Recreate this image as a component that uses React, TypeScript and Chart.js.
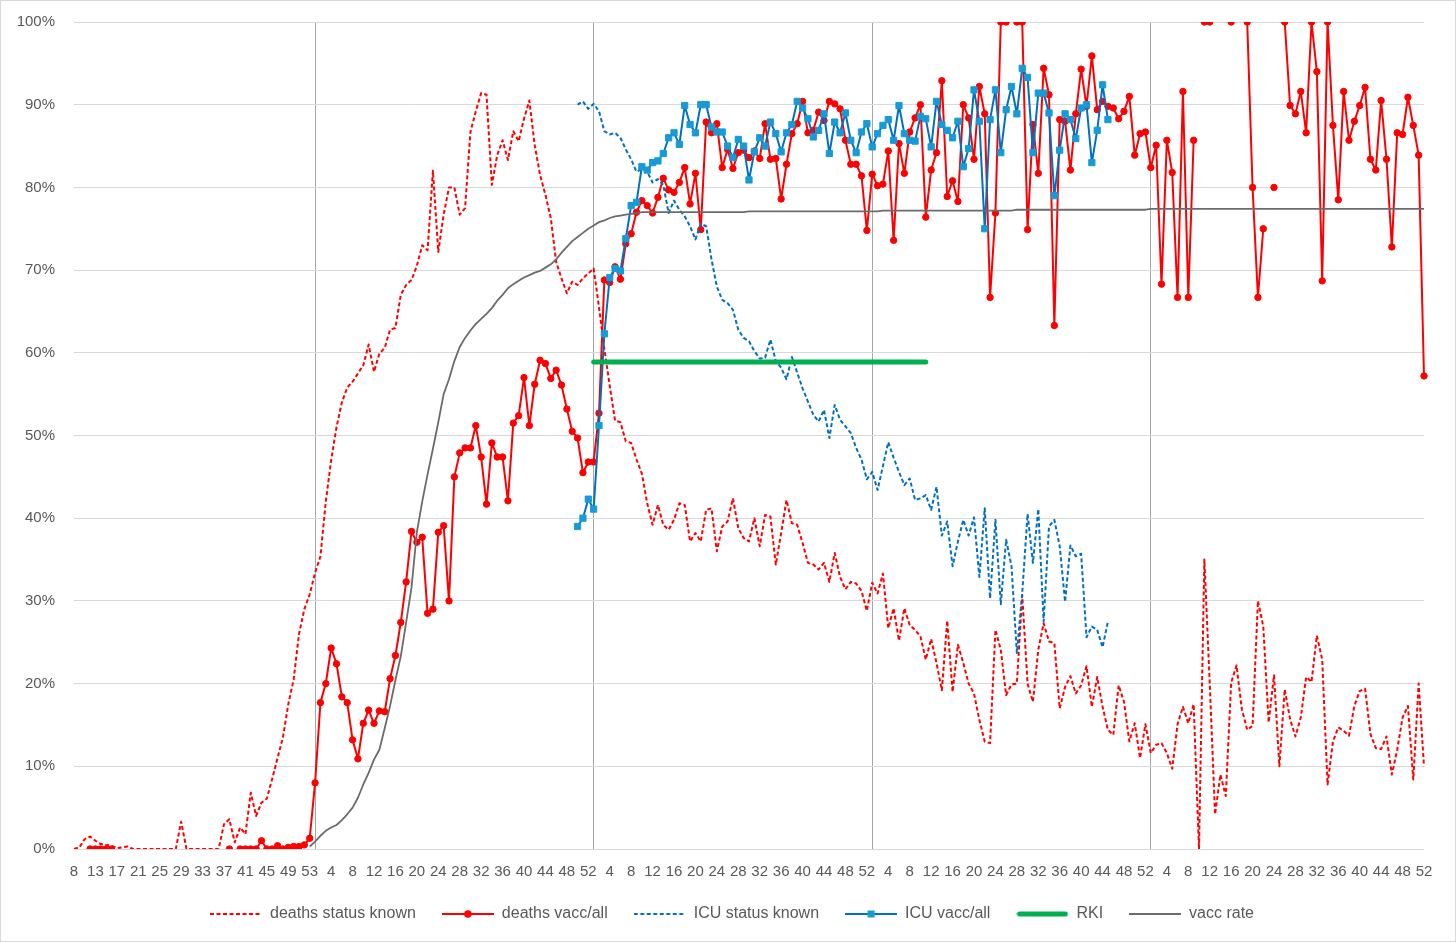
import React, { useEffect, useRef } from "react";
import { Chart, registerables } from "chart.js";

Chart.register(...registerables);

// calendar weeks on the x axis (2020 starts late, one week missing)
const weeks2020 = [
  8, 10, 11, 12, 13, 14, 15, 16, 17, 18, 19, 20, 21, 22, 23, 24, 25, 26, 27, 28, 29, 30, 31,
  32, 33, 34, 35, 36, 37, 38, 39, 40, 41, 42, 43, 44, 45, 46, 47, 48, 49, 50, 51, 52, 53,
];
const weeksOfYear = [
  1, 2, 3, 4, 5, 6, 7, 8, 9, 10, 11, 12, 13, 14, 15, 16, 17, 18, 19, 20, 21, 22, 23, 24, 25, 26,
  27, 28, 29, 30, 31, 32, 33, 34, 35, 36, 37, 38, 39, 40, 41, 42, 43, 44, 45, 46, 47, 48, 49, 50, 51, 52,
];
const laterYears = [2021, 2022, 2023, 2024];

const categories = [
  ...weeks2020.map((week) => ({ year: 2020, week })),
  ...laterYears.flatMap((year) => weeksOfYear.map((week) => ({ year, week }))),
];
const weekLabels = categories.map((c) => String(c.week));
const catIndex = (year: number, week: number) =>
  categories.findIndex((c) => c.year === year && c.week === week);

// share of deaths with known vaccination status (%), from 2020 wk 8
const deathsStatusKnown = [
  0, 0.2, 1.2, 1.5, 1.0, 0.6, 0.5, 0.4, 0.1, 0.2,
  0.3, 0, 0, 0, 0, 0, 0, 0, 0, 0,
  3.3, 0, 0, 0, 0, 0, 0, 0, 3.0, 3.6,
  0.8, 2.6, 1.8, 6.8, 4.0, 5.6, 6.1, 8.5, 11.0, 13.5,
  17.5, 20.5, 26.0, 29.0, 30.8, 33.4, 35.4, 42.0, 47.0, 51.0,
  54.0, 55.8, 56.5, 57.5, 58.5, 61.0, 57.7, 59.9, 60.6, 62.8,
  63.0, 67.0, 68.2, 68.8, 70.5, 73.0, 72.4, 82.0, 72.2, 76.7,
  80.0, 80.0, 76.7, 77.5, 86.7, 89.2, 91.4, 91.2, 80.3, 83.9,
  85.7, 83.3, 86.8, 85.6, 88.3, 90.5, 85.1, 81.5, 79.1, 76.3,
  71.0, 69.0, 67.2, 68.6, 68.2, 69.0, 69.6, 70.2, 65.5, 60.5,
  56.0, 51.8, 51.6, 49.3, 49.1, 47.1, 45.4, 41.8, 39.2, 41.6,
  39.2, 38.6, 39.8, 41.8, 41.6, 37.2, 38.2, 37.2, 41.0, 41.2,
  36.0, 39.0, 39.6, 42.4, 38.8, 37.6, 37.2, 40.0, 36.6, 40.4,
  40.2, 34.4, 38.2, 42.2, 39.4, 39.2, 37.0, 34.6, 34.4, 33.8,
  34.6, 32.3, 35.8, 32.9, 31.4, 32.3, 32.1, 31.2, 28.8, 32.2,
  30.9, 33.3, 26.7, 29.1, 25.2, 29.1, 27.1, 26.5, 25.7, 22.9,
  25.4, 22.5, 19.2, 27.6, 19.0, 24.7, 22.5, 20.0, 18.8, 15.6,
  13.0, 12.8, 26.5, 24.1, 18.6, 19.9, 20.0, 30.7, 20.0, 17.8,
  24.1, 27.3, 25.1, 24.9, 17.0, 19.6, 20.9, 18.8, 19.8, 22.1,
  17.2, 20.8, 17.2, 14.4, 13.8, 19.8, 17.8, 13.0, 15.2, 11.0,
  15.1, 11.6, 12.6, 12.8, 11.6, 9.7, 15.1, 17.2, 15.2, 17.5,
  0, 35.0, 20.1, 4.2, 9.0, 6.4, 20.1, 22.2, 16.9, 14.4,
  14.9, 30.0, 26.9, 15.3, 21.0, 10.0, 19.3, 15.7, 13.6, 15.9,
  20.8, 20.2, 25.8, 22.9, 7.8, 13.0, 14.7, 14.3, 13.7, 17.3,
  19.1, 19.4, 13.9, 12.2, 12.1, 13.6, 9.0, 12.0, 15.9, 17.3,
  8.4, 20.0, 10.0,
];

// vaccinated share of deaths (%), null = no value that week
const deathsVaccAll = [
  null, null, null, 0, 0, 0, 0, 0, null, null,
  null, null, null, null, null, null, null, null, null, null,
  null, null, null, null, null, null, null, null, null, 0,
  null, 0, 0, 0, 0, 1.0, 0, 0, 0.4, 0,
  0.2, 0.3, 0.3, 0.5, 1.3, 8.0, 17.7, 20.0, 24.3, 22.4,
  18.4, 17.7, 13.2, 10.9, 15.2, 16.8, 15.2, 16.7, 16.6, 20.6,
  23.4, 27.4, 32.3, 38.4, 37.1, 37.7, 28.5, 29.0, 38.3, 39.1,
  30.0, 45.0, 47.9, 48.5, 48.5, 51.2, 47.4, 41.7, 49.1, 47.4,
  47.4, 42.1, 51.5, 52.4, 57.0, 51.2, 56.2, 59.1, 58.7, 56.9,
  57.9, 56.1, 53.2, 50.5, 49.7, 45.5, 46.8, 46.8, 52.7, 68.8,
  68.5, 70.4, 68.9, 73.2, 74.4, 77.0, 78.4, 77.8, 76.9, 78.8,
  81.1, 79.7, 79.4, 80.6, 82.4, 78.0, 81.7, 74.9, 87.9, 86.6,
  87.7, 82.4, 84.6, 82.3, 84.2, 84.5, 83.6, 84.4, 83.5, 87.7,
  83.4, 83.5, 78.6, 82.8, 86.5, 87.7, 90.4, 86.6, 86.9, 89.1,
  88.1, 90.4, 90.1, 89.5, 85.7, 82.8, 82.8, 81.4, 74.8, 81.6,
  80.2, 80.4, 84.4, 73.6, 85.3, 81.7, 86.7, 88.4, 90.0, 76.4,
  82.1, 84.2, 92.9, 78.9, 80.8, 78.3, 90.0, 88.4, 83.4, 92.2,
  88.9, 66.7, 76.9, 100, 100, null, 100, 100, 74.9, 87.6,
  81.7, 94.4, 91.2, 63.3, 88.2, 88.0, 82.1, 88.9, 94.3, 89.8,
  95.9, 89.4, 90.4, 89.8, 89.6, 88.3, 89.2, 91.0, 83.9, 86.5,
  86.7, 82.4, 85.1, 68.3, 85.7, 81.8, 66.7, 91.6, 66.7, 85.7,
  null, 100, 100, null, null, null, 100, null, null, 100,
  80.0, 66.7, 75.0, null, 80.0, null, 100, 89.9, 88.9, 91.6,
  86.6, 100, 94.0, 68.7, 100, 87.5, 78.5, 91.6, 85.7, 88.0,
  89.9, 92.1, 83.4, 82.1, 90.5, 83.4, 72.8, 86.6, 86.4, 90.9,
  87.5, 83.9, 57.2,
];

// ICU series, from 2021 wk 50
const icuStart = catIndex(2021, 50);
const icuStatusKnown = [
  90.0, 90.4, 89.5, 90.1, 89.2, 86.8, 86.4, 86.6, 86.0, 84.6,
  83.4, 81.9, 82.2, 81.9, 80.6, 81.0, 80.3, 76.9, 78.4, 77.3,
  76.5, 75.3, 73.7, 75.6, 75.3, 71.3, 68.0, 66.4, 66.0, 65.2,
  62.8, 61.8, 61.4, 60.2, 59.3, 59.4, 61.6, 59.0, 58.2, 56.8,
  59.5, 57.6, 55.7, 54.1, 52.5, 51.7, 53.1, 49.7, 53.7, 51.9,
  51.1, 50.3, 48.5, 47.1, 44.7, 45.6, 43.4, 46.3, 49.2, 47.3,
  45.6, 44.0, 44.8, 42.2, 42.4, 42.8, 41.0, 43.8, 37.9, 39.6,
  34.2, 37.2, 39.8, 37.9, 40.1, 32.9, 41.2, 30.3, 39.8, 29.6,
  37.4, 34.2, 23.7, 30.9, 40.5, 34.6, 41.1, 27.5, 39.0, 39.8,
  36.6, 29.9, 36.7, 35.4, 35.7, 25.6, 26.9, 26.5, 24.4, 27.5,
];
const icuVaccAll = [
  39.0, 40.0, 42.3, 41.1, 51.2, 62.3, 69.1, 70.2, 69.9, 73.8,
  77.8, 78.2, 82.5, 82.1, 83.0, 83.2, 84.1, 86.0, 86.6, 85.2,
  89.9, 87.6, 86.6, 90.0, 90.0, 87.3, 86.7, 86.7, 85.0, 83.6,
  85.8, 85.0, 80.9, 84.3, 86.0, 85.0, 87.9, 86.5, 84.3, 86.6,
  87.6, 90.4, 89.6, 88.3, 86.1, 86.9, 88.9, 84.1, 87.9, 86.6,
  89.0, 85.7, 84.2, 86.7, 87.7, 84.9, 86.5, 87.5, 88.2, 85.7,
  89.9, 86.5, 85.7, 85.6, 88.6, 88.3, 84.9, 90.4, 87.6, 86.9,
  86.0, 88.0, 82.5, 84.7, 91.8, 88.0, 75.0, 88.2, 91.8, 84.2,
  89.4, 92.2, 88.9, 94.4, 93.3, 84.2, 91.4, 91.4, 89.0, 79.0,
  84.5, 88.9, 88.2, 85.9, 89.6, 90.0, 83.0, 86.9, 92.4, 88.2,
];

// RKI reference value, 2022 wk 1 to 2023 wk 11
const rkiStart = catIndex(2022, 1);
const rki = [
  58.9, 58.9, 58.9, 58.9, 58.9, 58.9, 58.9, 58.9, 58.9, 58.9,
  58.9, 58.9, 58.9, 58.9, 58.9, 58.9, 58.9, 58.9, 58.9, 58.9,
  58.9, 58.9, 58.9, 58.9, 58.9, 58.9, 58.9, 58.9, 58.9, 58.9,
  58.9, 58.9, 58.9, 58.9, 58.9, 58.9, 58.9, 58.9, 58.9, 58.9,
  58.9, 58.9, 58.9, 58.9, 58.9, 58.9, 58.9, 58.9, 58.9, 58.9,
  58.9, 58.9, 58.9, 58.9, 58.9, 58.9, 58.9, 58.9, 58.9, 58.9,
  58.9, 58.9, 58.9,
];

// vaccination rate, from 2020 wk 53
const vaccStart = catIndex(2020, 53);
const vaccRate = [
  0.3, 0.9, 1.6, 2.2, 2.6, 2.9, 3.5, 4.2, 5.0, 6.2,
  7.8, 9.2, 10.8, 12.0, 14.6, 17.3, 20.4, 23.3, 27.4, 31.6,
  38.3, 42.0, 45.3, 48.4, 51.6, 55.0, 56.8, 59.0, 60.7, 61.8,
  62.7, 63.5, 64.1, 64.7, 65.4, 66.3, 67.0, 67.8, 68.3, 68.7,
  69.1, 69.4, 69.7, 69.9, 70.3, 70.7, 71.3, 72.1, 72.8, 73.5,
  74.0, 74.5, 75.0, 75.4, 75.8, 76.0, 76.3, 76.5, 76.6, 76.7,
  76.8, 76.9, 77.0, 77.0, 77.0, 77.0, 77.0, 77.0, 77.0, 77.0,
  77.0, 77.0, 77.0, 77.0, 77.0, 77.0, 77.0, 77.0, 77.0, 77.0,
  77.0, 77.0, 77.1, 77.1, 77.1, 77.1, 77.1, 77.1, 77.1, 77.1,
  77.1, 77.1, 77.1, 77.1, 77.1, 77.1, 77.1, 77.1, 77.1, 77.1,
  77.1, 77.1, 77.1, 77.1, 77.1, 77.1, 77.1, 77.2, 77.2, 77.2,
  77.2, 77.2, 77.2, 77.2, 77.2, 77.2, 77.2, 77.2, 77.2, 77.2,
  77.2, 77.2, 77.2, 77.2, 77.2, 77.2, 77.2, 77.2, 77.2, 77.2,
  77.2, 77.2, 77.3, 77.3, 77.3, 77.3, 77.3, 77.3, 77.3, 77.3,
  77.3, 77.3, 77.3, 77.3, 77.3, 77.3, 77.3, 77.3, 77.3, 77.3,
  77.3, 77.3, 77.3, 77.3, 77.3, 77.3, 77.3, 77.4, 77.4, 77.4,
  77.4, 77.4, 77.4, 77.4, 77.4, 77.4, 77.4, 77.4, 77.4, 77.4,
  77.4, 77.4, 77.4, 77.4, 77.4, 77.4, 77.4, 77.4, 77.4, 77.4,
  77.4, 77.4, 77.4, 77.4, 77.4, 77.4, 77.4, 77.4, 77.4, 77.4,
  77.4, 77.4, 77.4, 77.4, 77.4, 77.4, 77.4, 77.4, 77.4, 77.4,
  77.4, 77.4, 77.4, 77.4, 77.4, 77.4, 77.4, 77.4, 77.4,
];

const yTicks = [0, 10, 20, 30, 40, 50, 60, 70, 80, 90, 100];

// year boundaries get a vertical grid line
const yearStarts = laterYears.map((y) => catIndex(y, 1));

const FONT = "'Liberation Sans', Arial, sans-serif";
const TEXT = "#595959";

const RED = "#ff0000";
const BLUE = "#0070c0";
const BLUE_MARK = "#179bd7";
const GREEN = "#00b050";
const GREY = "#6b6b6b";

// place a partial series on the full week axis
const onAxis = (start: number, values: (number | null)[]) =>
  categories.map((_, i) => (i >= start && i - start < values.length ? values[i - start] : null));

function legendIcon(draw: (ctx: CanvasRenderingContext2D) => void) {
  const c = document.createElement("canvas");
  c.width = 52;
  c.height = 14;
  const ctx = c.getContext("2d");
  if (ctx) draw(ctx);
  return c;
}

function iconLine(ctx: CanvasRenderingContext2D, color: string, width: number, dash: number[], round = false) {
  ctx.strokeStyle = color;
  ctx.lineWidth = width;
  ctx.setLineDash(dash);
  ctx.lineCap = round ? "round" : "butt";
  ctx.beginPath();
  ctx.moveTo(round ? 3 : 0, 7);
  ctx.lineTo(round ? 49 : 52, 7);
  ctx.stroke();
}

const framePlugin = {
  id: "frame",
  beforeDraw(chart: Chart) {
    const { ctx, width, height } = chart;
    ctx.save();
    ctx.fillStyle = "#ffffff";
    ctx.fillRect(0, 0, width, height);
    ctx.strokeStyle = "#d9d9d9";
    ctx.lineWidth = 1;
    ctx.strokeRect(0.5, 0.5, width - 1, height - 1);
    ctx.restore();
  },
  // legend sits a bit right of the plot centre, as in the original
  afterLayout(chart: any) {
    if (chart.legend) {
      chart.legend.left += 20;
      chart.legend.right += 20;
    }
  },
};

const App: React.FC = () => {
  const canvasRef = useRef<HTMLCanvasElement | null>(null);

  useEffect(() => {
    const ctx = canvasRef.current?.getContext("2d");
    if (!ctx) return;

    const icons = [
      legendIcon((c) => iconLine(c, RED, 2, [4, 2.5])),
      legendIcon((c) => {
        iconLine(c, RED, 2, []);
        c.fillStyle = RED;
        c.beginPath();
        c.arc(26, 7, 3.8, 0, Math.PI * 2);
        c.fill();
      }),
      legendIcon((c) => iconLine(c, BLUE, 2, [4, 2.5])),
      legendIcon((c) => {
        iconLine(c, BLUE, 2, []);
        c.fillStyle = BLUE_MARK;
        c.fillRect(22.5, 3.5, 7, 7);
      }),
      legendIcon((c) => iconLine(c, GREEN, 5, [], true)),
      legendIcon((c) => iconLine(c, GREY, 2, [])),
    ];

    const chart = new Chart(ctx, {
      type: "line",
      data: {
        labels: weekLabels,
        datasets: [
          {
            label: "deaths status known",
            data: deathsStatusKnown,
            borderColor: RED,
            borderWidth: 2,
            borderDash: [4, 2.5],
            borderJoinStyle: "round",
            pointRadius: 0,
            order: 6,
          },
          {
            label: "deaths vacc/all",
            data: deathsVaccAll,
            borderColor: RED,
            backgroundColor: RED,
            borderWidth: 2,
            borderJoinStyle: "round",
            pointStyle: "circle",
            pointRadius: 3.2,
            pointBorderWidth: 1,
            pointBackgroundColor: RED,
            pointBorderColor: RED,
            order: 5,
          },
          {
            label: "ICU status known",
            data: onAxis(icuStart, icuStatusKnown),
            borderColor: BLUE,
            borderWidth: 2,
            borderDash: [4, 2.5],
            borderJoinStyle: "round",
            pointRadius: 0,
            order: 4,
          },
          {
            label: "ICU vacc/all",
            data: onAxis(icuStart, icuVaccAll),
            borderColor: BLUE,
            backgroundColor: BLUE_MARK,
            borderWidth: 2,
            borderJoinStyle: "round",
            pointStyle: "rect",
            pointRadius: 4.4,
            pointBorderWidth: 1,
            pointBackgroundColor: BLUE_MARK,
            pointBorderColor: BLUE_MARK,
            order: 3,
          },
          {
            label: "RKI",
            data: onAxis(rkiStart, rki),
            borderColor: GREEN,
            borderWidth: 5,
            borderCapStyle: "round",
            pointRadius: 0,
            order: 2,
          },
          {
            label: "vacc rate",
            data: onAxis(vaccStart, vaccRate),
            borderColor: GREY,
            borderWidth: 1.8,
            borderJoinStyle: "round",
            pointRadius: 0,
            order: 1,
          },
        ],
      },
      options: {
        responsive: true,
        maintainAspectRatio: false,
        animation: false,
        events: [],
        layout: { padding: { left: 0, right: 32, top: 22, bottom: 10 } },
        plugins: {
          tooltip: { enabled: false },
          legend: {
            position: "bottom",
            labels: {
              usePointStyle: true,
              pointStyleWidth: 52,
              padding: 26,
              color: TEXT,
              font: { family: FONT, size: 16 },
              generateLabels: (c: Chart) =>
                c.data.datasets.map((ds, i) => ({
                  text: String(ds.label),
                  datasetIndex: i,
                  pointStyle: icons[i],
                  fillStyle: "rgba(0,0,0,0)",
                  strokeStyle: "rgba(0,0,0,0)",
                  lineWidth: 0,
                  hidden: false,
                  fontColor: TEXT,
                })),
            },
          },
        },
        scales: {
          x: {
            type: "category",
            offset: false,
            border: { display: false },
            grid: {
              drawTicks: false,
              offset: false,
              lineWidth: 1,
              color: (c: any) => (yearStarts.includes(c.index) ? "#a6a6a6" : "rgba(0,0,0,0)"),
            },
            ticks: {
              autoSkip: false,
              maxRotation: 0,
              minRotation: 0,
              padding: 15.5,
              color: TEXT,
              font: { family: FONT, size: 15, lineHeight: 1 },
              callback: (_v: any, i: number) => (i % 4 === 0 ? weekLabels[i] : ""),
            },
            afterFit: (s: any) => {
              s.height = 31;
            },
          },
          y: {
            min: yTicks[0],
            max: yTicks[yTicks.length - 1],
            border: { display: false },
            grid: { drawTicks: false, color: "#d9d9d9", lineWidth: 1 },
            ticks: {
              stepSize: yTicks[1] - yTicks[0],
              padding: 19,
              color: TEXT,
              font: { family: FONT, size: 15 },
              callback: (v: any) => `${v}%`,
            },
            afterFit: (s: any) => {
              s.width = 74;
              // the tick padding is horizontal only; keep the top edge free
              s.paddingTop = 9;
              s.paddingBottom = 9;
            },
          },
        },
      },
      plugins: [framePlugin],
    });

    return () => {
      chart.destroy();
    };
  }, []);

  return (
    <div style={{ position: "absolute", left: 0, top: 0, width: 1456, height: 942, background: "#fff" }}>
      <canvas ref={canvasRef} />
    </div>
  );
};

export default App;
